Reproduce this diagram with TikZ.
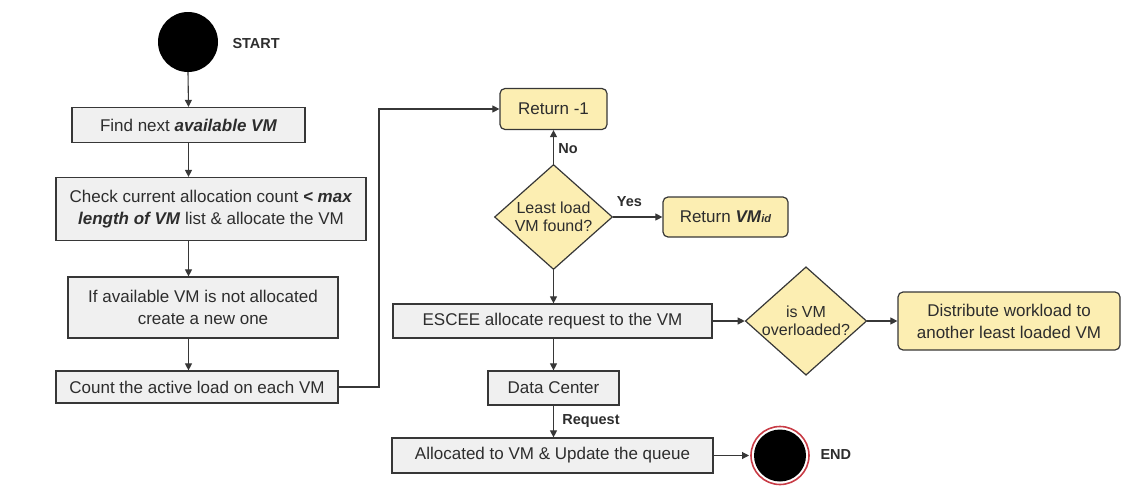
\documentclass[tikz,border=0pt]{standalone}
\usepackage{fontspec}
\setmainfont{Liberation Sans}
\usetikzlibrary{arrows.meta,shapes.geometric,positioning,calc}
\definecolor{boxgray}{RGB}{240,240,240}
\definecolor{boxyellow}{RGB}{252,238,178}
\definecolor{edge}{RGB}{55,55,55}
\definecolor{ink}{RGB}{45,45,45}
\definecolor{ringred}{RGB}{200,60,70}
\tikzset{
  procbox/.style={draw=edge, line width=1.2pt, fill=boxgray, align=center,
    inner sep=2pt, font=\fontsize{17}{21}\selectfont, text=ink},
  termbox/.style={draw=edge, line width=1.2pt, fill=boxyellow, rounded corners=5pt,
    align=center, inner sep=2pt, font=\fontsize{17}{21}\selectfont, text=ink},
  decision/.style={diamond, draw=edge, line width=1.2pt, fill=boxyellow, align=center,
    inner sep=0pt, aspect=1.12, font=\fontsize{16}{18}\selectfont, text=ink},
  flow/.style={draw=edge, line width=1.1pt, -{Triangle[length=7pt,width=7pt]}},
  tag/.style={font=\bfseries\fontsize{14.5}{16}\selectfont, text=ink},
}
\begin{document}
\begin{tikzpicture}[x=1pt,y=-1pt]
\useasboundingbox (0,0) rectangle (1124,485);

% start / end markers
\node (start) [circle, fill=black, minimum size=60pt, inner sep=0pt] at (188,42) {};
\node[tag, anchor=west] (startlbl) at (229,44) {START};

% left column of process steps
\node (b1) [procbox, minimum width=233pt, minimum height=35pt] at (188.5,125)
  {Find next \textbf{\textit{available VM}}};
\node (b2) [procbox, minimum width=310pt, minimum height=63pt] at (211,209)
  {Check current allocation count \textbf{\textit{< max}}\\[1pt]
   \textbf{\textit{length of VM}} list \& allocate the VM};
\node (b3) [procbox, minimum width=270pt, minimum height=61pt] at (203,307.5)
  {If available VM is not allocated\\[1pt] create a new one};
\node (b4) [procbox, minimum width=282pt, minimum height=32pt] at (197,387)
  {Count the active load on each VM};

% middle column
\node (ret1) [termbox, minimum width=107pt, minimum height=41pt] at (553.5,109) {Return -1};
\node (dia1) [decision, minimum width=118pt, minimum height=105pt] at (553.5,217)
  {Least load\\VM found?};
\node (retvm) [termbox, minimum width=125pt, minimum height=40pt] at (725.5,217)
  {Return \textbf{\textit{VM}}{\fontsize{11}{12}\selectfont\textbf{\textit{id}}}};
\node (escee) [procbox, minimum width=319pt, minimum height=34pt] at (552.5,321)
  {ESCEE allocate request to the VM};
\node (dc) [procbox, minimum width=131pt, minimum height=34pt] at (553.5,388) {Data Center};
\node (alloc) [procbox, minimum width=321pt, minimum height=35pt] at (552.5,455.5)
  {Allocated to VM \& Update the queue};

% right column
\node (dia2) [decision, minimum width=117pt, minimum height=104pt] at (806,321)
  {is VM\\overloaded?};
\node (dist) [termbox, minimum width=222pt, minimum height=58pt] at (1009,321)
  {Distribute workload to\\[1pt] another least loaded VM};

% end marker: black disc with a red ring
\node (endc) [circle, fill=black, minimum size=52pt, inner sep=0pt] at (780,455.5) {};
\draw[ringred, line width=1.6pt] (endc.center) circle (29pt);
\node[tag, anchor=west] (endlbl) at (817,455) {END};

% connectors
\draw[flow] (start.south) -- (b1.north);
\draw[flow] (b1.south) -- (b1.south |- b2.north);
\draw[flow] (b1.south |- b2.south) -- (b1.south |- b3.north);
\draw[flow] (b1.south |- b3.south) -- (b1.south |- b4.north);
\coordinate (loop) at (379,387);
\draw[flow] (b4.east) -- (loop) |- (ret1.west);
\draw[flow] (dia1.north) -- node[tag, right=1pt, pos=0.45] {No} (ret1.south);
\draw[flow] (dia1.east) -- node[tag, above=6pt, pos=0.33] {Yes} (retvm.west);
\draw[flow] (dia1.south) -- (dia1.south |- escee.north);
\draw[flow] (dia1.south |- escee.south) -- (dc.north);
\draw[flow] (dc.south) -- node[tag, right=5pt, pos=0.5] {Request} (dc.south |- alloc.north);
\coordinate (endin) at (749,455.5);
\draw[flow] (alloc.east) -- (endin);
\draw[flow] (escee.east) -- (dia2.west);
\draw[flow] (dia2.east) -- (dist.west);
\end{tikzpicture}
\end{document}
